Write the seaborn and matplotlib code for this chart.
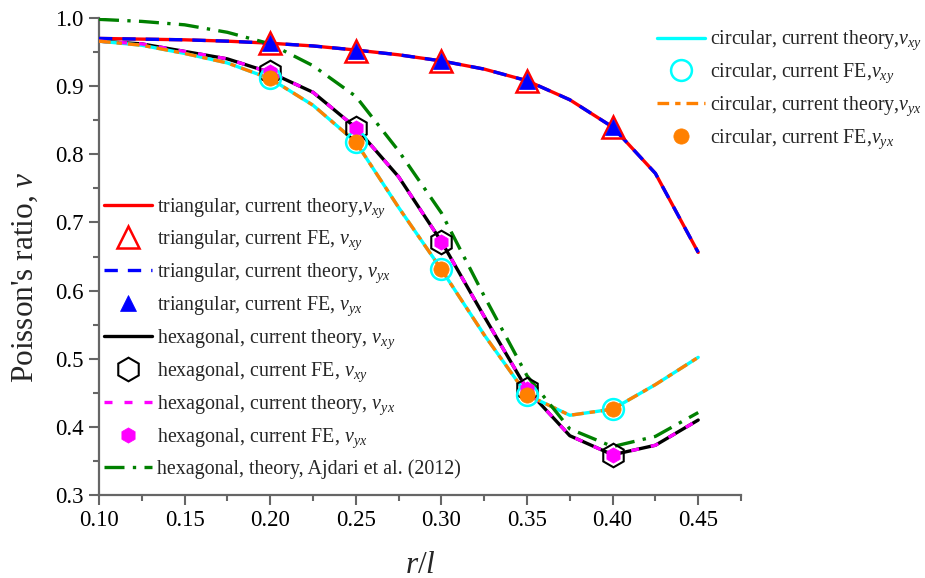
import matplotlib
matplotlib.use("Agg")
import matplotlib.pyplot as plt
import seaborn as sns
import numpy as np

# ---------------- data ----------------
r_theory = [0.100, 0.125, 0.150, 0.175, 0.200, 0.225, 0.250, 0.275,
            0.300, 0.325, 0.350, 0.375, 0.400, 0.425, 0.450]
tri_theory = [0.970, 0.969, 0.968, 0.966, 0.963, 0.959, 0.953, 0.946,
              0.937, 0.925, 0.908, 0.880, 0.840, 0.772, 0.656]
hex_theory = [0.966, 0.962, 0.951, 0.940, 0.920, 0.891, 0.839, 0.767,
              0.672, 0.562, 0.455, 0.387, 0.359, 0.373, 0.410]
circ_theory = [0.966, 0.960, 0.948, 0.934, 0.911, 0.872, 0.818, 0.722,
               0.631, 0.535, 0.447, 0.417, 0.426, 0.462, 0.502]
ajdari = [0.998, 0.995, 0.990, 0.979, 0.962, 0.930, 0.885, 0.805,
          0.714, 0.592, 0.475, 0.397, 0.371, 0.386, 0.421]

r_fe = [0.20, 0.25, 0.30, 0.35, 0.40]
tri_fe = [0.963, 0.952, 0.937, 0.908, 0.840]
hex_fe = [0.921, 0.839, 0.672, 0.455, 0.359]
circ_fe = [0.912, 0.818, 0.631, 0.447, 0.426]

x_ticks = [0.10, 0.15, 0.20, 0.25, 0.30, 0.35, 0.40, 0.45]
y_ticks = [0.3, 0.4, 0.5, 0.6, 0.7, 0.8, 0.9, 1.0]

# ---------------- style ----------------
sns.set_style("ticks")
plt.rcParams["font.family"] = ["Liberation Serif", "DejaVu Serif"]
plt.rcParams["mathtext.fontset"] = "custom"
plt.rcParams["mathtext.rm"] = "Liberation Serif"
plt.rcParams["mathtext.it"] = "Liberation Serif:italic"
plt.rcParams["mathtext.bf"] = "Liberation Serif:bold"

fig = plt.figure(figsize=(9.25, 5.78), dpi=100)
ax = fig.add_axes([99 / 925, 1 - 495 / 578, (741 - 99) / 925, (495 - 18) / 578])

LW = 2.4

def theory(y, color, label, ls="-", z=2):
    sns.lineplot(x=r_theory, y=y, color=color, lw=LW, linestyle=ls,
                 label=label, legend=False, errorbar=None, ax=ax, zorder=z)

def fe(y, marker, ms, label, fc, ec, mew=1.8, z=5):
    sns.lineplot(x=r_fe, y=y, marker=marker, markersize=ms, linestyle="",
                 markerfacecolor=fc, markeredgecolor=ec, markeredgewidth=mew,
                 color=ec, label=label, legend=False, errorbar=None, ax=ax, zorder=z)

# triangular
theory(tri_theory, "#ff0000", r"triangular, current theory,$\nu_{xy}$", "-", 2)
fe(tri_fe, "^", 16, r"triangular, current FE, $\nu_{xy}$", "none", "#ff0000", 1.8, 5)
theory(tri_theory, "#0000ff", r"triangular, current theory, $\nu_{yx}$", (0, (4, 3)), 3)
fe(tri_fe, "^", 11, r"triangular, current FE, $\nu_{yx}$", "#0000ff", "#0000ff", 0.5, 6)

# hexagonal
theory(hex_theory, "#000000", r"hexagonal, current theory, $\nu_{xy}$", "-", 2)
fe(hex_fe, "h", 17, r"hexagonal, current FE, $\nu_{xy}$", "none", "#000000", 1.5, 5)
theory(hex_theory, "#ff00ff", r"hexagonal, current theory, $\nu_{yx}$", (0, (2.4, 3.6)), 3)
fe(hex_fe, "h", 11, r"hexagonal, current FE, $\nu_{yx}$", "#ff00ff", "#ff00ff", 0.5, 6)

# circular
theory(circ_theory, "#00ffff", r"circular, current theory,$\nu_{xy}$", "-", 2)
fe(circ_fe, "o", 15, r"circular, current FE,$\nu_{xy}$", "none", "#00ffff", 1.8, 5)
theory(circ_theory, "#ff8000", r"circular, current theory,$\nu_{yx}$", (0, (3.5, 1.8, 1.6, 1.8)), 3)
fe(circ_fe, "o", 11, r"circular, current FE,$\nu_{yx}$", "#ff8000", "#ff8000", 0.5, 6)

# Ajdari
theory(ajdari, "#008000", r"hexagonal, theory, Ajdari et al. (2012)", (0, (6, 2.5, 1, 2.5)), 4)

# ---------------- axes ----------------
ax.set_xlim(0.10, 0.475)
ax.set_ylim(0.3, 1.0)
ax.set_xticks(x_ticks)
ax.set_xticklabels([f"{v:.2f}" for v in x_ticks])
ax.set_yticks(y_ticks)
ax.set_yticklabels([f"{v:.1f}" for v in y_ticks])
ax.set_xticks(np.arange(0.125, 0.476, 0.05), minor=True)
ax.set_yticks(np.arange(0.35, 1.0, 0.1), minor=True)
spine_c = "#666666"
for s in ["left", "bottom"]:
    ax.spines[s].set_color(spine_c)
    ax.spines[s].set_linewidth(1.6)
for s in ["top", "right"]:
    ax.spines[s].set_visible(False)
ax.tick_params(which="major", direction="out", length=7, width=1.5, color=spine_c,
               labelsize=16.5, pad=4, labelcolor="black")
ax.tick_params(which="minor", direction="out", length=4, width=1.5, color=spine_c)
ax.set_xlabel(r"$r/l$", fontsize=22.5, labelpad=14)
ax.set_ylabel(r"Poisson's ratio, $\nu$", fontsize=22.5, labelpad=11)
ax.yaxis.label.set_y(0.456)
ax.set_facecolor("white")

handles, labels = ax.get_legend_handles_labels()
left_idx = [i for i, l in enumerate(labels) if not l.startswith("circular")]
right_idx = [i for i, l in enumerate(labels) if l.startswith("circular")]

leg_kw = dict(frameon=False, fontsize=14.4, handlelength=2.4, handletextpad=0.25,
              labelspacing=0.47, borderpad=0, borderaxespad=0, numpoints=1)
leg1 = ax.legend([handles[i] for i in left_idx], [labels[i] for i in left_idx],
                 loc="upper left", bbox_to_anchor=(104 / 925, 1 - 196 / 578),
                 bbox_transform=fig.transFigure, **leg_kw)
ax.add_artist(leg1)
leg2 = ax.legend([handles[i] for i in right_idx], [labels[i] for i in right_idx],
                 loc="upper left", bbox_to_anchor=(657 / 925, 1 - 29 / 578),
                 bbox_transform=fig.transFigure, **leg_kw)

fig.savefig("out.png", dpi=100, facecolor="white")
